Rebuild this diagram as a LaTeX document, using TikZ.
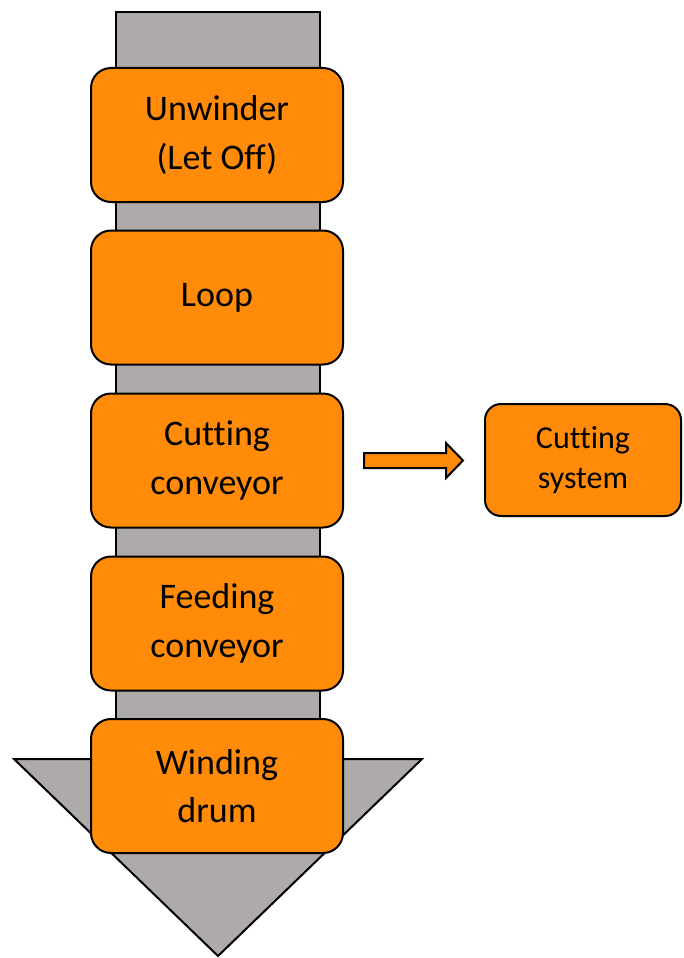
\documentclass[tikz,border=0pt]{standalone}
\usepackage{fontspec}
\setmainfont{Carlito}[Ligatures=NoCommon]
\usetikzlibrary{calc}
\definecolor{stageorange}{RGB}{255,139,8}
\definecolor{rollgray}{RGB}{174,170,170}

\begin{document}
\begin{tikzpicture}[x=1pt, y=-1pt, line width=2pt,
		stage/.style={draw, rectangle, rounded corners=20pt, fill=stageorange, minimum width=252pt, minimum height=134pt, align=center, font=\fontsize{36}{48.5}\selectfont},
		side/.style={draw, rectangle, rounded corners=16pt, fill=stageorange, minimum width=196pt, minimum height=112pt, align=center, font=\fontsize{32}{40.5}\selectfont}]
				\useasboundingbox (0, 0) rectangle (683, 958);
				% web path and winding drum outline
				\draw[fill=rollgray] (116, 12) rectangle (320, 760);
				\draw[fill=rollgray, line join=miter] (14, 759) -- (422, 759) -- (218, 956) -- cycle;
				% line stages
				\node[stage] (U)at(217, 135) {Unwinder\\(Let Off)};
				\node[stage] (L)at(217, 297.5) {Loop};
				\node[stage] (C)at(217, 460.5) {Cutting\\conveyor};
				\node[stage] (F)at(217, 623.5) {Feeding\\conveyor};
				\node[stage] (W)at(217, 786) {Winding\\drum};
				\node[side] (S)at(583, 460) {Cutting\\system};
				\draw[fill=stageorange, line join=miter] ($(C.east)+(20, -7.5)$) -- ++(82, 0) -- ++(0, -10) -- ++(17, 17.5) -- ++(-17, 17.5) -- ++(0, -10) -- ++(-82, 0) -- cycle;
			\end{tikzpicture}
\end{document}
